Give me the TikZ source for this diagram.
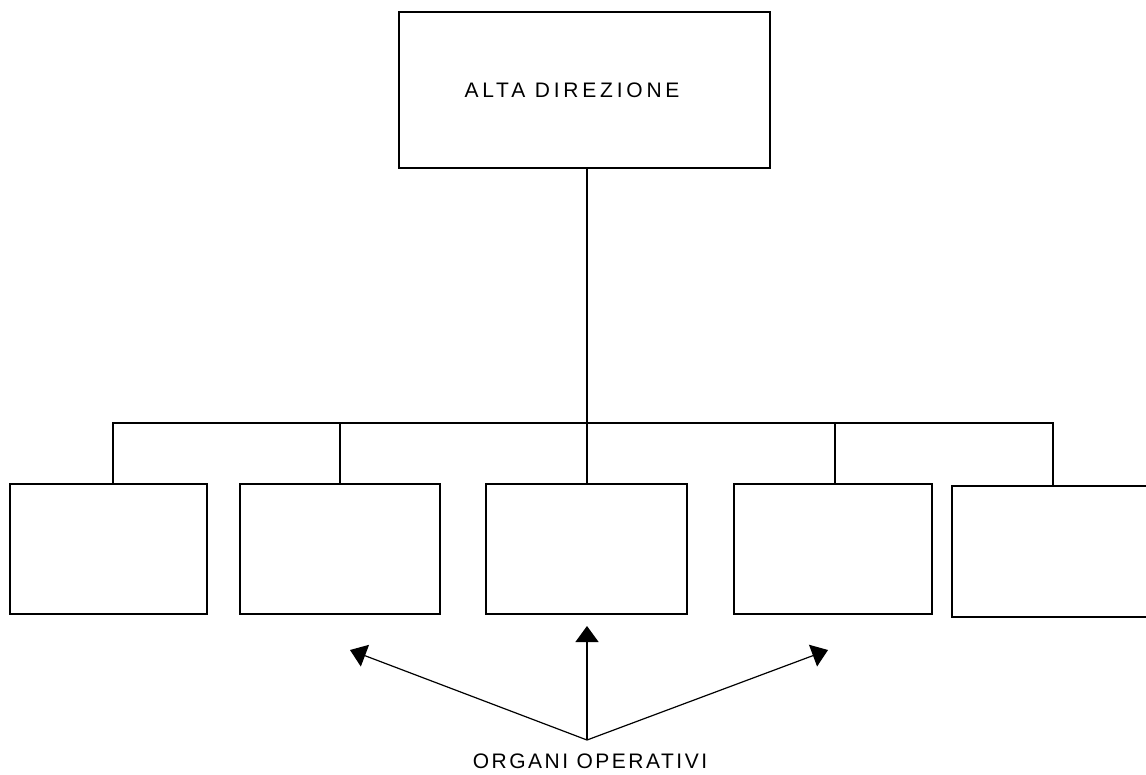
\documentclass[tikz,border=0pt]{standalone}
\usepackage{fontspec}
\setmainfont{Liberation Sans}
\usetikzlibrary{arrows.meta, positioning}

\begin{document}
\begin{tikzpicture}[
    x=1pt, y=-1pt,
    every node/.style={draw, line width=2.2pt, inner sep=0pt},
    unitbox/.style={minimum width=199pt, minimum height=130pt},
    link/.style={line width=2.2pt},
    arrow/.style={-{Triangle[width=23pt, length=16pt]}, line width=1.2pt},
    label/.style={draw=none, font=\fontsize{21}{24}\selectfont\addfontfeature{LetterSpace=12}}
]
\clip (0,0) rectangle (1146,774);

% Nodes
\node (top) [minimum width=371pt, minimum height=156pt] at (584.5,90) {};
\node [label, font=\fontsize{21}{24}\selectfont\addfontfeature{LetterSpace=18}] at (572,90) {ALTA DIREZIONE};
\node (b1) [unitbox, minimum width=197pt] at (108.5,549) {};
\node (b2) [unitbox, minimum width=200pt] at (340,549) {};
\node (b3) [unitbox, minimum width=201pt] at (586.5,549) {};
\node (b4) [unitbox, minimum width=198pt] at (833,549) {};
\node (b5) [unitbox, minimum height=131pt] at (1051.5,551.5) {};
\coordinate (bus) at (587,423);

% Lines
\draw[link] (top.south -| bus) -- (bus);
\draw[link] (b1.north -| 113,0) |- (bus) -| (b5.north -| 1053,0);
\draw[link] (b2.north) -- (b2.north |- bus);
\draw[link] (b3.north -| bus) -- (bus);
\draw[link] (b4.north -| 835,0) -- (bus -| 835,0);

% Arrows
\node (org) [label] at (590,761) {ORGANI OPERATIVI};
\coordinate (src) at (587,740);
\coordinate (tl) at (350,650);
\coordinate (tc) at (587,626);
\coordinate (tr) at (828,650);
\draw[arrow] (src) -- (tl);
\draw[arrow] (src) -- (tc);
\draw[arrow] (src) -- (tr);

\end{tikzpicture}
\end{document}
